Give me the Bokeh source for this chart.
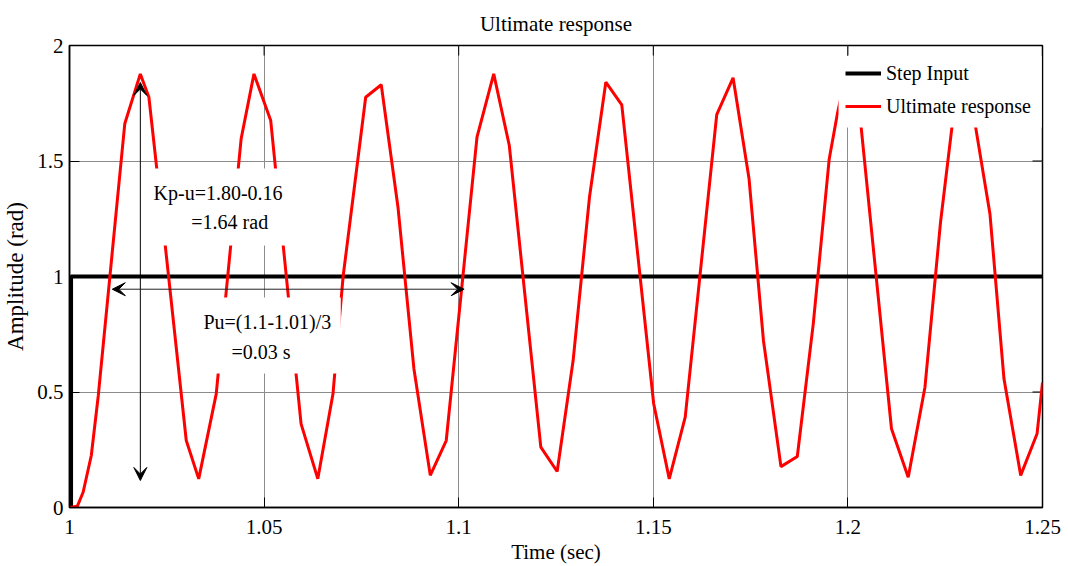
import math
from bokeh.plotting import figure
from bokeh.models import (FixedTicker, BoxAnnotation, Label, Arrow, VeeHead, Legend, LegendItem)
from bokeh.embed import file_html
from bokeh.resources import INLINE

# ---- data ----
step_t = [1.0, 1.0004, 1.0004, 1.25]
step_y = [0.0, 0.0, 1.0, 1.0]

resp_t = [1.0000, 1.0020, 1.0035, 1.0056, 1.0074, 1.0142, 1.0182, 1.0204, 1.0245, 1.0300,
          1.0332, 1.0377, 1.0441, 1.0474, 1.0517, 1.0595, 1.0638, 1.0677, 1.0703, 1.0761,
          1.0801, 1.0844, 1.0885, 1.0927, 1.0968, 1.1047, 1.1090, 1.1130, 1.1211, 1.1253,
          1.1294, 1.1336, 1.1378, 1.1419, 1.1501, 1.1541, 1.1582, 1.1663, 1.1705, 1.1746,
          1.1783, 1.1828, 1.1870, 1.1911, 1.1952, 1.1973, 1.1993, 1.2030, 1.2112, 1.2155,
          1.2198, 1.2238, 1.2279, 1.2320, 1.2365, 1.2401, 1.2444, 1.2486, 1.2500]
resp_y = [0.000, 0.005, 0.066, 0.225, 0.485, 1.661, 1.877, 1.776, 1.150, 0.290,
          0.124, 0.492, 1.596, 1.877, 1.675, 0.362, 0.124, 0.492, 1.000, 1.776,
          1.830, 1.300, 0.600, 0.139, 0.290, 1.603, 1.877, 1.567, 0.261, 0.156,
          0.636, 1.343, 1.841, 1.743, 0.449, 0.124, 0.391, 1.701, 1.860, 1.423,
          0.723, 0.177, 0.221, 0.795, 1.509, 1.705, 1.860, 1.714, 0.341, 0.131,
          0.521, 1.235, 1.810, 1.730, 1.271, 0.557, 0.139, 0.319, 0.540]

x_ticks = [1.0, 1.05, 1.1, 1.15, 1.2, 1.25]
x_tick_labels = ["1", "1.05", "1.1", "1.15", "1.2", "1.25"]
y_ticks = [0.0, 0.5, 1.0, 1.5, 2.0]
y_tick_labels = ["0", "0.5", "1", "1.5", "2"]

title_text = "Ultimate response"
x_label = "Time (sec)"
y_label = "Amplitude (rad)"
series_names = ["Step Input", "Ultimate response"]

# annotation values
kp_lines = ["Kp-u=1.80-0.16", "=1.64 rad"]
pu_lines = ["Pu=(1.1-1.01)/3", "=0.03 s"]
kp_arrow_t, kp_arrow_top, kp_arrow_bottom = 1.0182, 1.84, 0.117
pu_arrow_left, pu_arrow_right, pu_arrow_level = 1.0110, 1.1014, 0.945
kp_box = dict(left=1.0200, right=1.0570, top=1.468, bottom=1.134)
pu_box = dict(left=1.0326, right=1.0697, top=0.909, bottom=0.580)
legend_box = dict(left=1.1976, right=1.2498, top=1.955, bottom=1.645)
kp_text_pos = [(1.0216, 1.3615), (1.0313, 1.234)]
pu_text_pos = [(1.0344, 0.805), (1.0416, 0.675)]

FONT = "Liberation Serif"
X0, X1, Y0, Y1 = 1.0, 1.25, 0.0, 2.0

p = figure(width=1068, height=566, x_range=(X0, X1), y_range=(Y0, Y1),
           output_backend="svg", toolbar_location=None,
           min_border_left=68, min_border_right=26, min_border_top=45, min_border_bottom=59)

p.title.text = title_text
p.title.align = "center"
p.title.text_font = FONT
p.title.text_font_size = "21px"
p.title.text_font_style = "normal"
p.title.text_color = "black"
p.title.standoff = 19

p.outline_line_color = "black"
p.outline_line_width = 1.5

def style_axis(ax, ticks, labels):
    ax.ticker = FixedTicker(ticks=ticks)
    ax.major_label_overrides = {t: l for t, l in zip(ticks, labels)}
    ax.major_tick_in = 10
    ax.major_tick_out = 0
    ax.major_tick_line_color = "black"
    ax.major_tick_line_width = 1
    ax.minor_tick_line_color = None
    ax.axis_line_color = "black"
    ax.axis_line_width = 1.5
    ax.major_label_text_font = FONT
    ax.major_label_text_font_size = "21px"
    ax.major_label_text_color = "black"
    ax.axis_label_text_font = FONT
    ax.axis_label_text_font_style = "normal"
    ax.axis_label_text_color = "black"

style_axis(p.xaxis[0], x_ticks, x_tick_labels)
style_axis(p.yaxis[0], y_ticks, y_tick_labels)
p.xaxis[0].axis_label = x_label
p.yaxis[0].axis_label = y_label
p.xaxis[0].axis_label_text_font_size = "21px"
p.yaxis[0].axis_label_text_font_size = "23px"
p.xaxis[0].major_label_standoff = 12
p.xaxis[0].axis_label_standoff = 3
p.yaxis[0].major_label_standoff = 6
p.yaxis[0].axis_label_standoff = 6

p.xgrid.ticker = FixedTicker(ticks=x_ticks)
p.ygrid.ticker = FixedTicker(ticks=y_ticks)
p.xgrid.grid_line_color = "#8c8c8c"
p.ygrid.grid_line_color = "#8c8c8c"
p.xgrid.grid_line_width = 1
p.ygrid.grid_line_width = 1

# mirrored inward ticks on the top and right edges (half of each dash is clipped by the frame)
p.scatter(x=x_ticks, y=[Y1] * len(x_ticks), marker="dash", size=20, angle=math.pi / 2,
          line_color="black", line_width=1)
p.scatter(x=[X1] * len(y_ticks), y=y_ticks, marker="dash", size=20,
          line_color="black", line_width=1)

r_step = p.line(step_t, step_y, line_color="black", line_width=4)
r_resp = p.line(resp_t, resp_y, line_color="#ff0000", line_width=3)

# white boxes hiding the lines behind the text annotations and the legend
for b in (kp_box, pu_box, legend_box):
    p.add_layout(BoxAnnotation(fill_color="white", fill_alpha=1, line_color=None, **b))

for (tx, ty), txt in zip(kp_text_pos + pu_text_pos, kp_lines + pu_lines):
    p.add_layout(Label(x=tx, y=ty, text=txt, text_font=FONT, text_font_size="20px",
                       text_color="black", text_align="left", text_baseline="middle"))

def vee():
    return VeeHead(size=13, fill_color="black", line_color="black", line_width=1)

p.add_layout(Arrow(start=vee(), end=vee(), x_start=kp_arrow_t, y_start=kp_arrow_bottom,
                   x_end=kp_arrow_t, y_end=kp_arrow_top, line_color="black", line_width=1))
p.add_layout(Arrow(start=vee(), end=vee(), x_start=pu_arrow_left, y_start=pu_arrow_level,
                   x_end=pu_arrow_right, y_end=pu_arrow_level, line_color="#222222", line_width=1))

lg = Legend(items=[LegendItem(label=series_names[0], renderers=[r_step]),
                   LegendItem(label=series_names[1], renderers=[r_resp])],
            location=(776, 388), margin=0, padding=0, spacing=7,
            glyph_width=36, glyph_height=26, label_standoff=5,
            label_text_font=FONT, label_text_font_size="20px", label_text_color="black",
            border_line_color=None, background_fill_alpha=0.0)
p.add_layout(lg, "center")

open("out.html", "w").write(file_html(p, INLINE))
